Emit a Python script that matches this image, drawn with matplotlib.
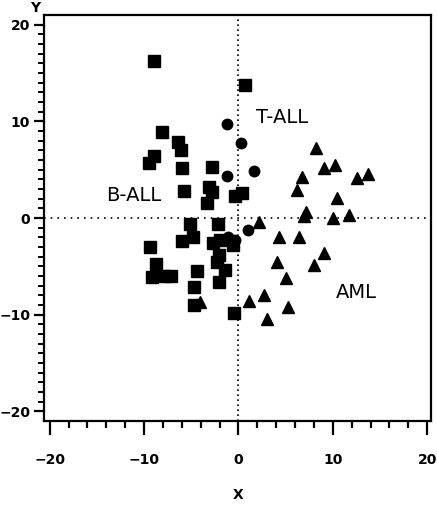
import matplotlib
matplotlib.use("Agg")
import matplotlib.pyplot as plt
import numpy as np

# B-ALL (squares)
ball_x = [-9.0, 0.7, -8.1, -6.4, -6.1, -9.0, -9.5, -6.0, -2.8, -5.8, -3.1, -2.8, -3.3,
          -0.4, 0.4, -5.1, -2.2, -4.8, -6.0, -9.4, -8.7, -9.2, -7.9, -7.1, -4.4, -4.7,
          -4.7, -2.1, -1.4, -0.5, -2.7, -2.0, -0.6, -2.1, -2.3]
ball_y = [16.2, 13.8, 8.9, 7.9, 7.0, 6.4, 5.7, 5.2, 5.3, 2.8, 3.2, 2.7, 1.6,
          2.3, 2.6, -0.6, -0.6, -2.0, -2.4, -3.0, -4.8, -6.1, -6.0, -6.0, -5.5, -7.1,
          -9.0, -6.6, -5.4, -9.8, -2.6, -2.3, -2.8, -3.8, -4.5]

# T-ALL (circles)
tall_x = [-1.2, 0.3, -1.2, 1.6, 1.0, -1.1, -0.4]
tall_y = [9.7, 7.8, 4.3, 4.9, -1.2, -2.0, -2.3]

# AML (triangles)
aml_x = [8.2, 9.1, 10.2, 6.7, 6.2, 12.6, 13.7, 10.4, 7.2, 6.9, 10.0, 11.7, 2.2,
         4.3, 6.4, 9.1, 4.1, 8.0, 5.0, 1.1, 2.7, 5.3, 3.0, -4.1]
aml_y = [7.2, 5.2, 5.5, 4.2, 2.9, 4.1, 4.6, 2.1, 0.6, 0.2, 0.0, 0.3, -0.4,
         -2.0, -2.0, -3.6, -4.6, -4.9, -6.2, -8.6, -8.0, -9.2, -10.4, -8.7]

group_labels = ["T-ALL", "B-ALL", "AML"]
label_x = [4.6, -11.1, 12.5]
label_y = [10.4, 2.3, -7.7]

fig = plt.figure(figsize=(4.37, 5.07), dpi=100)
ax = fig.add_axes([0.1007, 0.1696, 0.8856, 0.8008])

ax.axhline(0, color="black", linestyle=(0, (1, 3)), linewidth=1.2, zorder=1)
ax.axvline(0, color="black", linestyle=(0, (1, 2)), linewidth=1.2, zorder=1)

ax.plot(ball_x, ball_y, "s", color="black", markersize=8.5, zorder=3)
ax.plot(tall_x, tall_y, "o", color="black", markersize=7.5, zorder=3)
ax.plot(aml_x, aml_y, "^", color="black", markersize=9, zorder=3)

for t, x, y in zip(group_labels, label_x, label_y):
    ax.text(x, y, t, fontsize=14, ha="center", va="center", family="DejaVu Sans",
            fontweight="medium")

ax.set_xlim(-20.6, 20.4)
ax.set_ylim(-21, 21)
ax.set_xticks([-20, -10, 0, 10, 20])
ax.set_xticks(np.arange(-20, 21, 2), minor=True)
ax.set_yticks([-20, -10, 0, 10, 20])
ax.set_yticks(np.arange(-20, 21, 1), minor=True)

for s in ax.spines.values():
    s.set_linewidth(1.6)

ax.tick_params(axis="x", which="major", direction="out", length=10, width=1.6, pad=13,
               labelsize=10)
ax.tick_params(axis="x", which="minor", direction="out", length=5, width=1.6)
ax.tick_params(axis="y", which="major", direction="out", length=7, width=1.6, pad=3,
               labelsize=10)
ax.tick_params(axis="y", which="minor", direction="out", length=4, width=1.4)
for lab in ax.get_xticklabels() + ax.get_yticklabels():
    lab.set_fontweight("bold")

fig.text(238 / 437, 1 - 495 / 507, "X", fontsize=10, fontweight="bold", ha="center", va="center")
fig.text(35 / 437, 1 - 8 / 507, "Y", fontsize=10, fontweight="bold", ha="center", va="center")

fig.savefig("out.png", dpi=100)
